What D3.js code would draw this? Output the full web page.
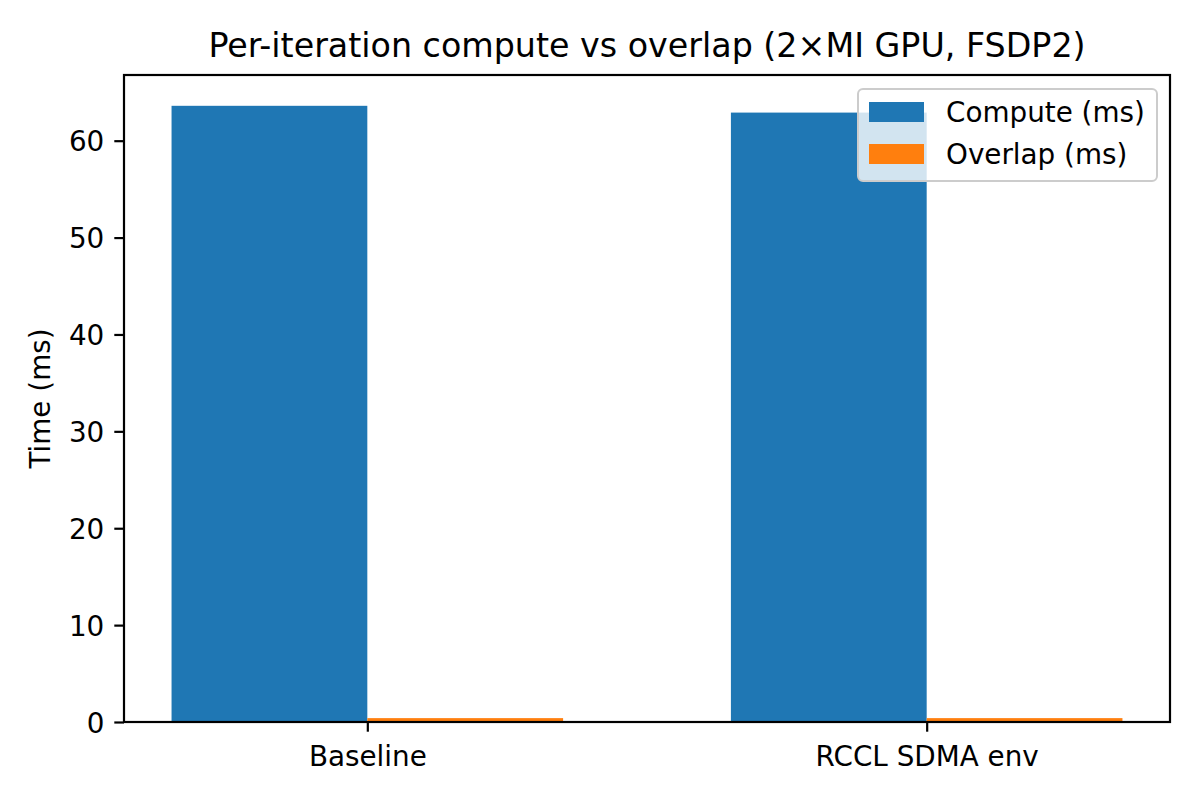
<!DOCTYPE html>
<html>
<head>
<meta charset="utf-8">
<script src="https://cdn.jsdelivr.net/npm/d3@7"></script>
<style>
  body { margin: 0; background: #fff; }
  svg, svg text { font-family: "DejaVu Sans", sans-serif; }
  svg { display: block; }
</style>
</head>
<body>
<div id="wrapper"></div>
<script>
// data
const categories = ["Baseline", "RCCL SDMA env"];
const seriesNames = ["Compute (ms)", "Overlap (ms)"];
const computeMs = [63.6, 62.9];
const overlapMs = [0.4, 0.4];
const yTicks = [0, 10, 20, 30, 40, 50, 60];

const colors = ["#1f77b4", "#ff7f0e"];

function drawBars() {
  // 1. dimensions
  let dimensions = {
    width: 1200,
    height: 800,
    margin: { top: 75, right: 30, bottom: 78, left: 124 },
  };
  dimensions.boundedWidth =
    dimensions.width - dimensions.margin.left - dimensions.margin.right;
  dimensions.boundedHeight =
    dimensions.height - dimensions.margin.top - dimensions.margin.bottom;

  // 2. canvas
  const wrapper = d3
    .select("#wrapper")
    .append("svg")
    .attr("width", dimensions.width)
    .attr("height", dimensions.height);

  const bounds = wrapper
    .append("g")
    .attr("transform", `translate(${dimensions.margin.left},${dimensions.margin.top})`);

  // 3. scales (matplotlib style: bars of width 0.35, 5% margins)
  const barW = 0.35;
  const xMin = -barW - 0.085;
  const xMax = categories.length - 1 + barW + 0.085;
  const xScale = d3.scaleLinear().domain([xMin, xMax]).range([0, dimensions.boundedWidth]);

  const yMax = d3.max(computeMs.concat(overlapMs)) * 1.05;
  const yScale = d3.scaleLinear().domain([0, yMax]).range([dimensions.boundedHeight, 0]);

  // 4. bars
  const series = [computeMs, overlapMs];
  series.forEach((values, s) => {
    bounds
      .selectAll(`.bar-${s}`)
      .data(values)
      .enter()
      .append("rect")
      .attr("class", `bar-${s}`)
      .attr("x", (d, i) => xScale(i + (s === 0 ? -barW : 0)))
      .attr("width", xScale(barW) - xScale(0))
      .attr("y", (d) => yScale(d))
      .attr("height", (d) => yScale(0) - yScale(d))
      .attr("fill", colors[s]);
  });

  // 5. axes
  const xAxisGenerator = d3
    .axisBottom(xScale)
    .tickValues(d3.range(categories.length))
    .tickFormat((d) => categories[d])
    .tickSize(9.7)
    .tickPadding(8);

  const xAxis = bounds
    .append("g")
    .attr("transform", `translate(0,${dimensions.boundedHeight})`)
    .call(xAxisGenerator);

  const yAxisGenerator = d3
    .axisLeft(yScale)
    .tickValues(yTicks)
    .tickSize(9.7)
    .tickPadding(10);

  const yAxis = bounds.append("g").call(yAxisGenerator);

  [xAxis, yAxis].forEach((ax) => {
    ax.attr("font-family", null).attr("font-size", null);
    ax.select(".domain").remove();
    ax.selectAll("line").attr("stroke", "#000").attr("stroke-width", 2.2);
    ax.selectAll("text").attr("fill", "#000").style("font-size", "27.8px");
  });
  xAxis.selectAll("text").attr("dy", "0.95em");
  yAxis.selectAll("text").attr("dy", "0.36em");

  // frame
  bounds
    .append("rect")
    .attr("width", dimensions.boundedWidth)
    .attr("height", dimensions.boundedHeight)
    .attr("fill", "none")
    .attr("stroke", "#000")
    .attr("stroke-width", 2.2);

  // labels
  wrapper
    .append("text")
    .attr("x", dimensions.margin.left + dimensions.boundedWidth / 2)
    .attr("y", 57)
    .attr("text-anchor", "middle")
    .style("font-size", "33.3px")
    .text("Per-iteration compute vs overlap (2×MI GPU, FSDP2)");

  wrapper
    .append("text")
    .attr("transform", `translate(50,${dimensions.margin.top + dimensions.boundedHeight / 2}) rotate(-90)`)
    .attr("text-anchor", "middle")
    .style("font-size", "27.8px")
    .text("Time (ms)");

  // 6. legend
  const legend = wrapper.append("g").attr("transform", "translate(858,89)");
  legend
    .append("rect")
    .attr("width", 299)
    .attr("height", 92)
    .attr("rx", 5)
    .attr("fill", "#fff")
    .attr("fill-opacity", 0.8)
    .attr("stroke", "#cccccc")
    .attr("stroke-width", 2);

  const items = legend
    .selectAll(".item")
    .data(seriesNames)
    .enter()
    .append("g")
    .attr("class", "item")
    .attr("transform", (d, i) => `translate(11,${13 + i * 42})`);

  items
    .append("rect")
    .attr("width", 55)
    .attr("height", 20)
    .attr("fill", (d, i) => colors[i]);

  items
    .append("text")
    .attr("x", 77)
    .attr("y", 20)
    .style("font-size", "27.8px")
    .text((d) => d);
}
drawBars();
</script>
</body>
</html>
